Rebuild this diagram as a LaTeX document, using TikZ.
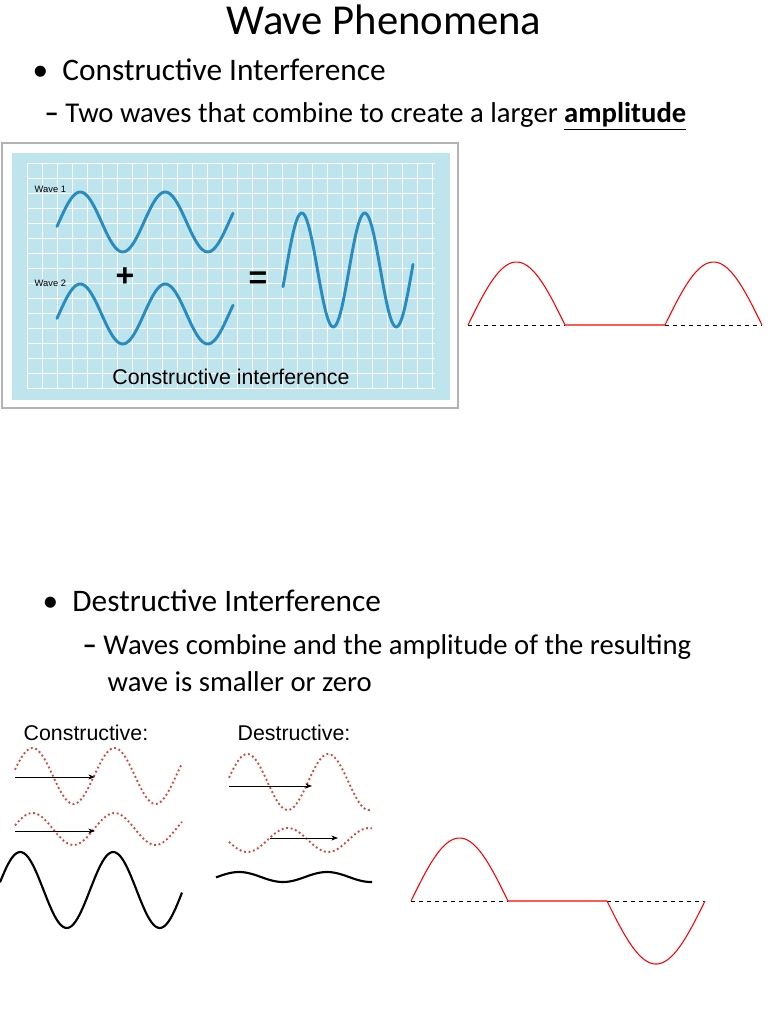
\documentclass[tikz,border=0pt]{standalone}
\usepackage{fontspec}
\setmainfont{Carlito}
\newfontfamily\arialfont{Liberation Sans}
\usetikzlibrary{arrows.meta,positioning}
\definecolor{panelblue}{RGB}{190,228,238}
\definecolor{wavecol}{RGB}{40,140,190}
\definecolor{dotred}{RGB}{215,70,60}
\tikzset{
  title/.style={font=\fontsize{32}{36}\selectfont},
  bullet/.style={anchor=west,font=\fontsize{23.5}{28}\selectfont},
  sub/.style={anchor=west,font=\fontsize{21.5}{26}\selectfont,align=left},
  panel label/.style={font=\arialfont\fontsize{7}{8}\selectfont,anchor=west},
  blue wave/.style={wavecol,line width=2.2pt,line cap=round},
  dotted wave/.style={dotred,line width=1.4pt,dotted},
  black wave/.style={black,line width=1.6pt},
  half wave/.style={red,line width=0.8pt},
  base line/.style={black,dashed,line width=0.5pt},
  motion/.style={-{Stealth[length=5pt]},line width=0.5pt}
}
\begin{document}
\begin{tikzpicture}[x=0.75pt,y=-0.75pt]
\useasboundingbox (0,0) rectangle (768,1024);
% headings
\node[title] (title) at (384,20) {Wave Phenomena};
\node[bullet] (b1) at (28,70) {\textbullet\ \ Constructive Interference};
\node[sub] (s1) at (40,116) {\textbf{--} Two waves that combine to create a larger \textbf{\underline{amplitude}}};
\node[bullet] (b2) at (38,601) {\textbullet\ \ Destructive Interference};
\node[sub] (s2) at (78,647) {\textbf{--} Waves combine and the amplitude of the resulting};
\node[sub] (s3) at (103,682) {wave is smaller or zero};
% top panel
\draw[gray!60,line width=2pt,fill=white] (2,143) rectangle (458,408);
\fill[panelblue] (12,153) rectangle (450,400);
\foreach \gx in {27,42,...,435} \draw[white,line width=0.6pt] (\gx,163) -- (\gx,388);
\foreach \gy in {163,178,...,388} \draw[white,line width=0.6pt] (27,\gy) -- (435,\gy);
\draw[blue wave] plot[domain=57:233,samples=80] (\x,{222-30*sin(360/85*(\x-59))});
\draw[blue wave] plot[domain=57:233,samples=80] (\x,{314-30*sin(360/85*(\x-59))});
\draw[blue wave] plot[domain=283:413,samples=80] (\x,{270-57*sin(360/63*(\x-286))});
\node[panel label] (w1) at (30,189) {Wave 1};
\node[panel label] (w2) at (30,283) {Wave 2};
\node[font=\arialfont\bfseries\fontsize{24}{24}\selectfont] (plus) at (125,277) {+};
\node[font=\arialfont\bfseries\fontsize{24}{24}\selectfont] (eq) at (258,280) {=};
\node[font=\arialfont\fontsize{16}{18}\selectfont] (cap) at (231,377) {Constructive interference};
% top half waves
\draw[base line] (468,325) -- (565,325);
\draw[base line] (665,325) -- (762,325);
\draw[half wave] plot[domain=468:565,samples=50] (\x,{325-63*sin(180/97*(\x-468))}) -- (665,325)
  plot[domain=665:762,samples=50] (\x,{325-63*sin(180/97*(\x-665))});
% bottom image
\node[font=\arialfont\fontsize{16}{18}\selectfont,anchor=west] (con) at (19,733) {Constructive:};
\node[font=\arialfont\fontsize{16}{18}\selectfont,anchor=west] (des) at (233,733) {Destructive:};
\draw[dotted wave] plot[domain=15:182,samples=80] (\x,{776-28*sin(360/82*(\x-12))});
\draw[dotted wave] plot[domain=15:182,samples=80] (\x,{829-16*sin(360/82*(\x-12))});
\draw[black wave] plot[domain=0:182,samples=90] (\x,{890-38*sin(360/93*(\x+3))});
\coordinate (c1a) at (15,777); \coordinate (c1b) at (95,777);
\coordinate (c2a) at (15,831); \coordinate (c2b) at (95,831);
\draw[motion] (c1a) -- (c1b);
\draw[motion] (c2a) -- (c2b);
\draw[dotted wave] plot[domain=229:372,samples=80] (\x,{782-28*sin(360/81*(\x-227))});
\draw[dotted wave] plot[domain=229:372,samples=80] (\x,{840+12*sin(360/81*(\x-227))});
\draw[black wave] plot[domain=216:372,samples=80] (\x,{877-5*sin(360/88*(\x-217))});
\coordinate (d1a) at (229,786); \coordinate (d1b) at (312,786);
\coordinate (d2a) at (270,838); \coordinate (d2b) at (338,838);
\draw[motion] (d1a) -- (d1b);
\draw[motion] (d2a) -- (d2b);
% bottom half waves
\draw[base line] (411,901) -- (508,901);
\draw[base line] (607,901) -- (705,901);
\draw[half wave] plot[domain=411:508,samples=50] (\x,{901-63*sin(180/97*(\x-411))}) -- (607,901)
  plot[domain=607:705,samples=50] (\x,{901+63*sin(180/98*(\x-607))});
\end{tikzpicture}
\end{document}
